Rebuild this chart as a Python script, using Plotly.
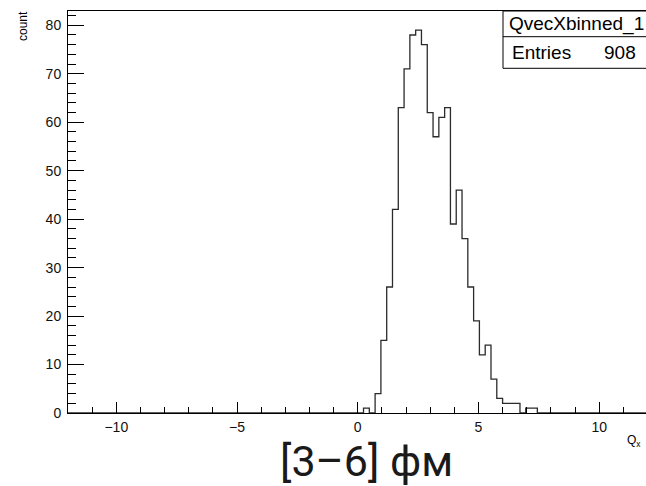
import numpy as np
import plotly.graph_objects as go

# ---- data ----
x_lo, x_hi = -12.0, 12.0          # histogram range
bin_width = 0.24                  # 100 bins
first_edge = 0.0                  # lower edge of first listed bin
counts = [0, 1, 0, 4, 15, 26, 42, 63, 71, 78, 79, 76, 62, 57, 61, 63,
          39, 46, 36, 26, 19, 12, 14, 7, 3, 2, 2, 2, 0, 1, 1]
hist_name = "QvecXbinned_1"
entries = 908
x_ticks = [-10, -5, 0, 5, 10]
y_ticks = [0, 10, 20, 30, 40, 50, 60, 70, 80]
caption = "[3–6] фм"

# ---- build full histogram ----
n_bins = int(round((x_hi - x_lo) / bin_width))
edges = x_lo + bin_width * np.arange(n_bins + 1)
full = np.zeros(n_bins)
start = int(round((first_edge - x_lo) / bin_width))
full[start:start + len(counts)] = counts
ys = np.append(full, full[-1])

W, H = 646, 486
L, R, T, B = 68, 0, 11, 73
pw = W - L - R
ph = H - T - B

def px(xpix):
    return (xpix - L) / pw

def py(ypix):
    return (H - B - ypix) / ph

fig = go.Figure()
fig.add_trace(go.Scatter(
    x=edges, y=ys, mode="lines", line_shape="hv",
    line=dict(color="#2b2b2b", width=1.3), hoverinfo="skip", showlegend=False))

axis_font = dict(family="Liberation Sans, Arial, sans-serif", size=14, color="#111111")

fig.update_layout(
    width=W, height=H,
    margin=dict(l=L, r=R, t=T, b=B, pad=0),
    paper_bgcolor="white", plot_bgcolor="white",
    showlegend=False,
    xaxis=dict(range=[-12, 11.94], showgrid=False, zeroline=False,
               showline=True, linecolor="black", linewidth=1, mirror=True,
               ticks="inside", ticklen=11, tickcolor="black", tickwidth=1,
               tickvals=x_ticks, tickfont=axis_font, ticklabelstandoff=1,
               minor=dict(dtick=1, tick0=0, ticks="inside", ticklen=6,
                          tickcolor="black", tickwidth=1, showgrid=False)),
    yaxis=dict(range=[0, 82.95], showgrid=False, zeroline=False,
               showline=True, linecolor="black", linewidth=1, mirror=False,
               ticks="inside", ticklen=16, tickcolor="black", tickwidth=1,
               tickvals=y_ticks, tickfont=axis_font, ticklabelstandoff=3,
               minor=dict(dtick=2, tick0=0, ticks="inside", ticklen=8,
                          tickcolor="black", tickwidth=1, showgrid=False)),
)

# stats box
fig.add_shape(type="rect", xref="paper", yref="paper",
              x0=px(503), x1=px(652), y0=py(68.3), y1=py(11),
              line=dict(color="black", width=1), fillcolor="white", layer="above")
fig.add_shape(type="line", xref="paper", yref="paper",
              x0=px(503), x1=px(652), y0=py(36.7), y1=py(36.7),
              line=dict(color="black", width=1), layer="above")

stat_font = dict(family="Liberation Sans, Arial, sans-serif", size=19, color="black")
fig.add_annotation(text=hist_name, xref="paper", yref="paper",
                   x=px(576), y=py(23.5), xanchor="center", yanchor="middle",
                   showarrow=False, font=stat_font)
fig.add_annotation(text="Entries", xref="paper", yref="paper",
                   x=px(510), y=py(52.5), xanchor="left", yanchor="middle",
                   showarrow=False, font=stat_font)
fig.add_annotation(text=str(entries), xref="paper", yref="paper",
                   x=px(638), y=py(52.5), xanchor="right", yanchor="middle",
                   showarrow=False, font=stat_font)

# axis titles
fig.add_annotation(text="count", xref="paper", yref="paper",
                   x=px(23), y=py(9), xanchor="center", yanchor="top",
                   textangle=-90, showarrow=False,
                   font=dict(family="Liberation Sans, Arial, sans-serif", size=12, color="black"))
fig.add_annotation(text="Q<sub>x</sub>", xref="paper", yref="paper",
                   x=px(643), y=py(441), xanchor="right", yanchor="middle",
                   showarrow=False,
                   font=dict(family="Liberation Sans, Arial, sans-serif", size=12, color="black"))

# caption
fig.add_annotation(text=caption, xref="paper", yref="paper",
                   x=px(366.5), y=py(460.5), xanchor="center", yanchor="middle",
                   showarrow=False,
                   font=dict(family="Roboto, Noto Sans, sans-serif", size=43,
                             color="#1a1a1a"))

fig.write_html("out.html")
